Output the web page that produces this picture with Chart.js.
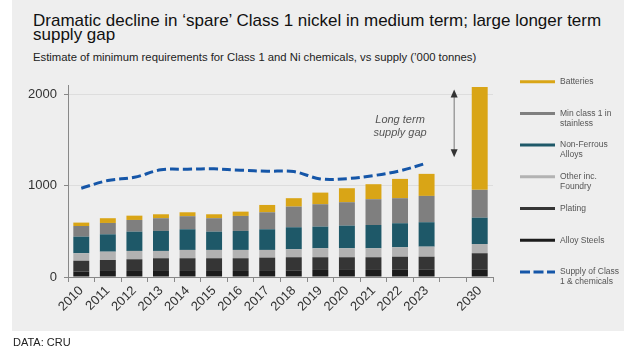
<!DOCTYPE html>
<html>
<head>
<meta charset="utf-8">
<script src="https://cdn.jsdelivr.net/npm/chart.js@4.4.1/dist/chart.umd.min.js"></script>
<style>
  html, body { margin: 0; padding: 0; background: #fff; }
  body { font-family: 'Liberation Sans', Arial, sans-serif; }
  #panel { position: absolute; left: 12px; top: 0; width: 612px; height: 331px; background: #eeeeee; }
  #wrap { position: absolute; left: 0; top: 0; width: 624px; height: 350px; }
  #title { position: absolute; left: 33px; top: 13.8px; font-size: 17px; line-height: 14px; color: #111; white-space: nowrap; }
  #subtitle { position: absolute; left: 33px; top: 50.7px; font-size: 11.3px; line-height: 13px; color: #222; white-space: nowrap; }
  #source { position: absolute; left: 13px; top: 336px; font-size: 11px; color: #222; }
</style>
</head>
<body>
<div id="panel"></div>
<div id="title">Dramatic decline in ‘spare’ Class 1 nickel in medium term; large longer term<br>supply gap</div>
<div id="subtitle">Estimate of minimum requirements for Class 1 and Ni chemicals, vs supply (’000 tonnes)</div>
<div id="wrap"><canvas id="chart"></canvas></div>
<div id="source">DATA: CRU</div>
<script>
// '000 tonnes. Empty slot separates 2023 from 2030.
const years = ['2010', '2011', '2012', '2013', '2014', '2015', '2016', '2017',
    '2018', '2019', '2020', '2021', '2022', '2023', '', '2030'];

const alloySteels  = [58, 66, 66, 66, 66, 66, 66, 66, 73, 77, 77, 77, 84, 84, null, 84];
const plating      = [120, 120, 128, 139, 139, 139, 139, 146, 143, 139, 139, 139, 138, 138, null, 176];
const otherFoundry = [82, 91, 91, 80, 91, 91, 91, 84, 87, 98, 98, 98, 103, 110, null, 101];
const nonFerrous   = [181, 190, 211, 219, 226, 200, 208, 226, 241, 237, 248, 255, 263, 267, null, 288];
const minClass1    = [117, 124, 128, 139, 143, 147, 164, 186, 226, 245, 256, 282, 274, 288, null, 304];
const batteries    = [37, 52, 47, 43, 43, 43, 47, 80, 92, 127, 153, 164, 211, 241, null, 1124];
const supply       = [971, 1055, 1091, 1172, 1179, 1183, 1168, 1157, 1153, 1073, 1076, 1109, 1161, 1245, null, null];

const yTicks = [0, 1000, 2000];

// supply gap arrow and note (value units)
const gapTop = 2050;
const gapBottom = 1310;
const noteLines = ['Long term', 'supply gap'];
const noteValues = [1720, 1575];

const FONT = "'Liberation Sans', Arial, sans-serif";
Chart.defaults.font.family = FONT;

function bar(label, data, color) {
    return {
        type: 'bar',
        label,
        data,
        backgroundColor: color,
        borderWidth: 0,
        stack: 'demand',
        order: 1,
        barPercentage: 0.6,
        categoryPercentage: 1,
    };
}

const datasets = [
    bar('Alloy Steels', alloySteels, '#1c1c1c'),
    bar('Plating', plating, '#353535'),
    bar('Other inc.\nFoundry', otherFoundry, '#b2b2b2'),
    bar('Non-Ferrous\nAlloys', nonFerrous, '#1e5868'),
    bar('Min class 1 in\nstainless', minClass1, '#7f7f7f'),
    bar('Batteries', batteries, '#d9a516'),
    {
        type: 'line',
        label: 'Supply of Class\n1 & chemicals',
        data: supply,
        borderColor: '#1556a8',
        borderWidth: 3,
        borderDash: [9, 4],
        tension: 0.35,
        pointRadius: 0,
        fill: false,
        stack: 'supply',
        order: 0,
    },
];

// legend on the right, top of stack first, supply last
const sideLegend = {
    id: 'sideLegend',
    afterDraw(chart) {
        const { ctx, chartArea } = chart;
        const bars = chart.data.datasets.filter((d) => d.type === 'bar').reverse();
        const items = bars.concat(chart.data.datasets.filter((d) => d.type === 'line'));
        const x0 = chartArea.right + 27;
        ctx.save();
        ctx.font = '8.5px ' + FONT;
        ctx.textBaseline = 'middle';
        items.forEach((ds, i) => {
            const y = chartArea.top - 3.3 + i * 31.7;
            const isLine = ds.type === 'line';
            ctx.strokeStyle = isLine ? ds.borderColor : ds.backgroundColor;
            ctx.lineWidth = 3;
            ctx.setLineDash(isLine ? [10, 3.5] : []);
            ctx.beginPath();
            ctx.moveTo(x0, y);
            ctx.lineTo(x0 + 35, y);
            ctx.stroke();
            ctx.fillStyle = '#555';
            ds.label.split('\n').forEach((line, j) => {
                ctx.fillText(line, x0 + 40, y + j * 10);
            });
        });
        ctx.restore();
    },
};

// double headed arrow + italic note
const gapNote = {
    id: 'gapNote',
    afterDatasetsDraw(chart) {
        const { ctx, scales: { x, y } } = chart;
        const ax = x.getPixelForValue(14) + 1;
        const top = y.getPixelForValue(gapTop);
        const bottom = y.getPixelForValue(gapBottom);
        ctx.save();
        ctx.strokeStyle = '#777';
        ctx.lineWidth = 1;
        ctx.beginPath();
        ctx.moveTo(ax, top + 6);
        ctx.lineTo(ax, bottom - 6);
        ctx.stroke();
        ctx.fillStyle = '#333';
        ctx.beginPath();
        ctx.moveTo(ax, top);
        ctx.lineTo(ax - 3.5, top + 8);
        ctx.lineTo(ax + 3.5, top + 8);
        ctx.closePath();
        ctx.fill();
        ctx.beginPath();
        ctx.moveTo(ax, bottom);
        ctx.lineTo(ax - 3.5, bottom - 8);
        ctx.lineTo(ax + 3.5, bottom - 8);
        ctx.closePath();
        ctx.fill();

        ctx.font = 'italic 11px ' + FONT;
        ctx.fillStyle = '#555';
        ctx.textAlign = 'center';
        ctx.textBaseline = 'middle';
        const tx = x.getPixelForValue(12);
        noteLines.forEach((t, i) => ctx.fillText(t, tx, y.getPixelForValue(noteValues[i])));
        ctx.restore();
    },
};

const chart = new Chart(document.getElementById('chart'), {
    data: {
        labels: years,
        datasets,
    },
    options: {
        animation: false,
        responsive: true,
        maintainAspectRatio: false,
        layout: { padding: { left: 20, right: 0, top: 85, bottom: 0 } },
        plugins: {
            legend: { display: false },
            tooltip: { enabled: false },
        },
        scales: {
            x: {
                stacked: true,
                grid: {
                    display: true,
                    drawOnChartArea: false,
                    tickLength: 5,
                    tickColor: '#888',
                },
                border: { color: '#888' },
                ticks: {
                    color: '#333',
                    font: { size: 13 },
                    minRotation: 45,
                    maxRotation: 45,
                    autoSkip: false,
                    padding: 1,
                },
                afterFit(scale) { scale.height = 73; },
            },
            y: {
                stacked: true,
                min: 0,
                max: 2100,
                grid: {
                    color: (c) => (c.tick && c.tick.value === 0 ? 'rgba(0,0,0,0)' : '#dddddd'),
                    tickColor: '#888',
                    tickLength: 4,
                },
                border: { color: '#888' },
                ticks: {
                    stepSize: 1000,
                    includeBounds: false,
                    color: '#333',
                    font: { size: 13 },
                    padding: 7,
                    callback: (v) => String(v),
                },
                afterBuildTicks(scale) {
                    scale.ticks = yTicks.map((v) => ({ value: v }));
                },
                afterFit(scale) { scale.width = 48; },
            },
            side: {
                type: 'linear',
                position: 'right',
                display: true,
                grid: { display: false },
                border: { display: false },
                ticks: { display: false },
                afterFit(scale) { scale.width = 131; },
            },
        },
    },
    plugins: [gapNote, sideLegend],
});
</script>
</body>
</html>
